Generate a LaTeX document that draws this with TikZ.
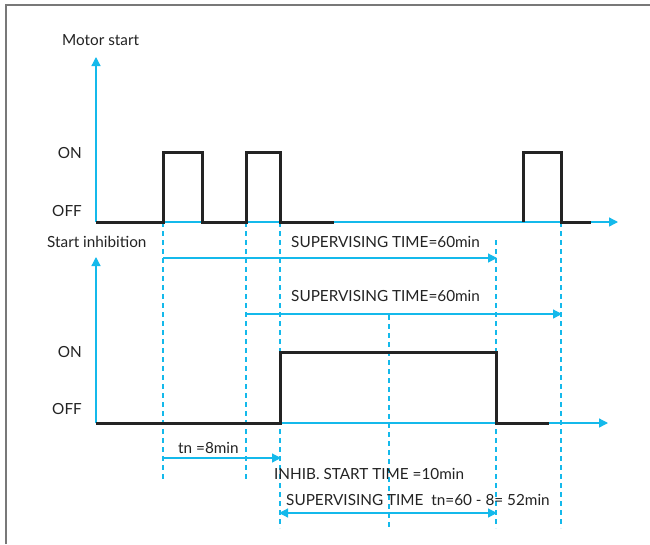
\documentclass[tikz,border=0pt]{standalone}
\usepackage{fontspec}
\setmainfont{Lato}
\usetikzlibrary{arrows.meta}
\definecolor{cy}{RGB}{20,185,235}
\definecolor{sig}{RGB}{35,35,35}
\definecolor{frm}{RGB}{120,120,120}
\begin{document}
\begin{tikzpicture}[x=1pt,y=-1pt,
  axis/.style={draw=cy,line width=1.3pt,-{Triangle[length=9pt,width=9pt]}},
  dim/.style={draw=cy,line width=1.2pt,-{Triangle[length=9pt,width=9pt]}},
  dimboth/.style={draw=cy,line width=1.2pt,{Triangle[length=9pt,width=9pt]}-{Triangle[length=9pt,width=9pt]}},
  guide/.style={draw=cy,line width=1.2pt,dash pattern=on 5pt off 4pt},
  signal/.style={draw=sig,line width=3pt,line join=miter},
  lbl/.style={font=\fontsize{15.3}{17}\selectfont,text=sig,inner sep=0pt},
  frame/.style={draw=frm,line width=2.2pt}]
\useasboundingbox (0,0) rectangle (650,544);
\fill[white] (0,0) rectangle (650,544);
% frame
\draw[frame] (6,544) -- (6,5) -- (650,5);

% coordinates
\coordinate (o1) at (96,222);
\coordinate (y1) at (96,57);
\coordinate (x1) at (618,222);
\coordinate (o2) at (96,423);
\coordinate (y2) at (96,257);
\coordinate (x2) at (608,423);

% guides
\draw[guide] (163,222) -- (163,479);
\draw[guide] (246,222) -- (246,479);
\draw[guide] (280,222) -- (280,528);
\draw[guide] (389,315) -- (389,528);
\draw[guide] (496,240) -- (496,528);
\draw[guide] (561,222) -- (561,528);

% axes
\draw[axis] (o1) -- (y1);
\draw[axis] (o1) -- (x1);
\draw[axis] (o2) -- (y2);
\draw[axis] (o2) -- (x2);

% signals
\draw[signal] (96,222) -- (163,222) -- (163,152) -- (202,152) -- (202,222) -- (246,222) -- (246,152) -- (280,152) -- (280,222) -- (334,222);
\draw[signal] (523,222) -- (523,152) -- (561,152) -- (561,222) -- (591,222);
\draw[signal] (96,423) -- (280,423) -- (280,352) -- (496,352) -- (496,423) -- (549,423);

% labels
\node[lbl,anchor=west] (tm) at (62,40) {Motor start};
\node[lbl,anchor=east] (on1) at (82,153) {ON};
\node[lbl,anchor=east] (off1) at (82,211) {OFF};
\node[lbl,anchor=west] (ts) at (47,242) {Start inhibition};
\node[lbl,anchor=east] (on2) at (82,352) {ON};
\node[lbl,anchor=east] (off2) at (82,409) {OFF};

% dimension arrows
\coordinate (a1s) at (163,258); \coordinate (a1e) at (497,258);
\draw[dim] (a1s) -- (a1e);
\node[lbl,anchor=west] (s1) at (291,242) {SUPERVISING TIME=60min};
\coordinate (a2s) at (246,314); \coordinate (a2e) at (562,314);
\draw[dim] (a2s) -- (a2e);
\node[lbl,anchor=west] (s2) at (291,296) {SUPERVISING TIME=60min};
\coordinate (a3s) at (163,458); \coordinate (a3e) at (281,458);
\draw[dim] (a3s) -- (a3e);
\node[lbl,anchor=west] (tn) at (178,448) {tn =8min};
\node[lbl,anchor=west] (ih) at (274,474) {INHIB. START TIME =10min};
\coordinate (a4s) at (279,513); \coordinate (a4e) at (497,513);
\draw[dimboth] (a4s) -- (a4e);
\node[lbl,anchor=west] (s3) at (286,500) {SUPERVISING TIME\ \ tn=60 - 8= 52min};
\end{tikzpicture}
\end{document}
